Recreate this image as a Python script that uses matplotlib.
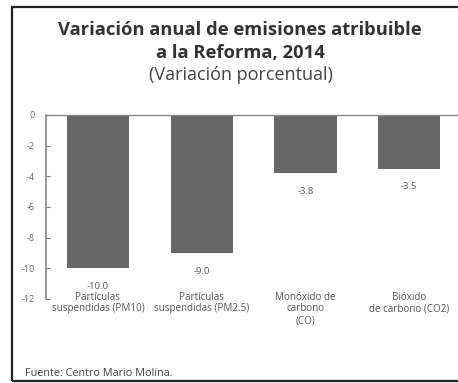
import matplotlib.pyplot as plt
from matplotlib.patches import Rectangle
import matplotlib.transforms as mtransforms

plt.rcParams['font.family'] = ['Open Sans', 'DejaVu Sans']

categorias = ["Partículas\nsuspendidas (PM10)", "Partículas\nsuspendidas (PM2.5)",
              "Monóxido de\ncarbono\n(CO)", "Bióxido\nde carbono (CO2)"]
variacion = [-10.0, -9.0, -3.8, -3.5]
yticks = [0, -2, -4, -6, -8, -10, -12]

W, H = 458, 383
fig = plt.figure(figsize=(W / 100, H / 100), dpi=100)

# marco exterior
fig.patches.append(Rectangle((12 / W, 1 - 381 / H), 1.0, (381 - 7) / H,
                             transform=fig.transFigure, fill=False,
                             edgecolor="#222222", linewidth=1.6))

ax = fig.add_axes([46 / W, 1 - 299 / H, 415 / W, 184 / H])
x = range(len(variacion))
ax.bar(x, variacion, width=0.6, color="#676767")
ax.set_xlim(-0.5, 3.5)
ax.set_ylim(-12, 0)
ax.set_yticks(yticks)
ax.set_yticklabels([str(t) for t in yticks])
ax.tick_params(axis="y", direction="in", length=3, pad=8, labelsize=6.5,
               labelcolor="#666666", color="#777777")
ax.set_xticks([])
for s in ("bottom", "right"):
    ax.spines[s].set_visible(False)
ax.spines["top"].set_color("#888888")
ax.spines["left"].set_color("#888888")
ax.spines["top"].set_linewidth(1.0)
ax.spines["left"].set_linewidth(1.2)

for i, v in enumerate(variacion):
    ax.annotate(f"{v:.1f}", (i, v), xytext=(0, -13), textcoords="offset points",
                ha="center", va="center", fontsize=6.8, color="#555555")

trans = mtransforms.blended_transform_factory(ax.transData, ax.transAxes)
for i, c in enumerate(categorias):
    ax.text(i, 0.04, c, transform=trans, ha="center", va="top",
            fontsize=7.1, color="#555555", linespacing=1.1)

fig.text(240 / W, 1 - 30 / H, "Variación anual de emisiones atribuible",
         ha="center", va="center", fontsize=13.2, fontweight="bold", color="#333333")
fig.text(240 / W, 1 - 53 / H, "a la Reforma, 2014",
         ha="center", va="center", fontsize=13.2, fontweight="bold", color="#333333")
fig.text(241 / W, 1 - 75 / H, "(Variación porcentual)",
         ha="center", va="center", fontsize=13, color="#444444")
fig.text(25 / W, 1 - 373 / H, "Fuente: Centro Mario Molina.",
         ha="left", va="center", fontsize=7.8, color="#444444")

fig.savefig("out.png", dpi=100)
